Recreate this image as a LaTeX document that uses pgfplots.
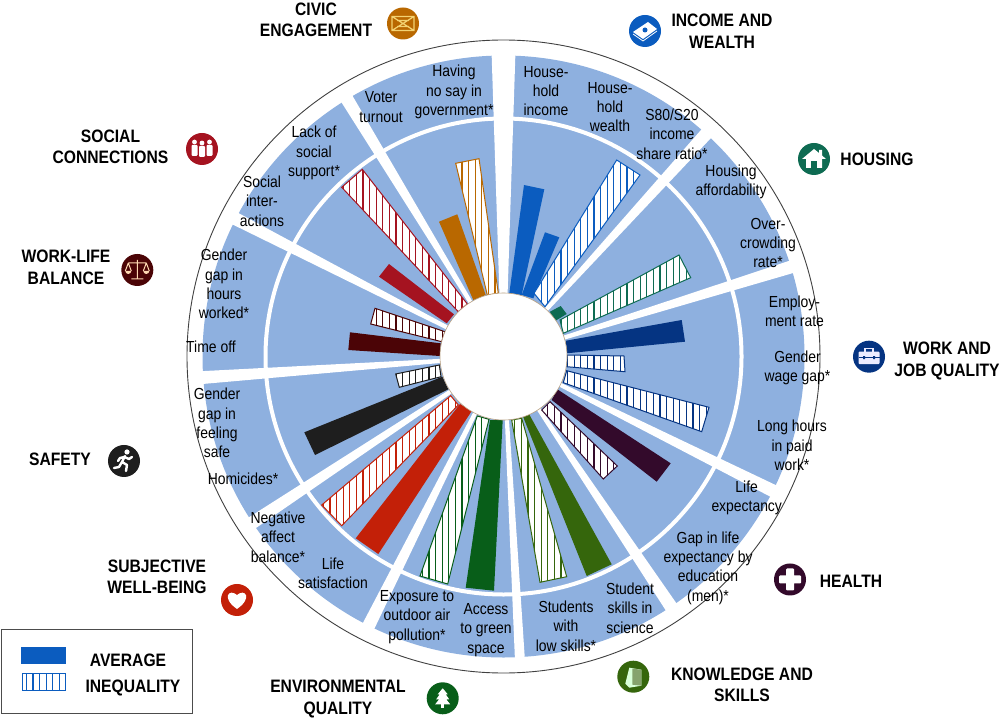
\documentclass[border=0pt]{standalone}
\usepackage{fontspec}
\setmainfont[FakeStretch=0.87]{Liberation Sans}
\usepackage{pgfplots}
\pgfplotsset{compat=1.18}
\usetikzlibrary{patterns.meta}

\definecolor{disc}{HTML}{8EB0DF}
\definecolor{cIncome}{HTML}{0B5CBF}
\definecolor{cHousing}{HTML}{0E6B52}
\definecolor{cWork}{HTML}{053482}
\definecolor{cHealth}{HTML}{330A2B}
\definecolor{cKnow}{HTML}{35660C}
\definecolor{cEnv}{HTML}{085E19}
\definecolor{cSubj}{HTML}{C32008}
\definecolor{cSafety}{HTML}{1E1E1E}
\definecolor{cLife}{HTML}{4B0406}
\definecolor{cSocial}{HTML}{A51320}
\definecolor{cCivic}{HTML}{B96800}

% bars, corners given in picture pixels
\newcommand{\solidbar}[2]{\addplot[fill=#1,draw=none] coordinates {#2} -- cycle;}
\newcommand{\hatchbar}[2]{%
  \addplot[fill=white,draw=none] coordinates {#2} -- cycle;
  \addplot[draw=#1,line width=1pt,pattern={Lines[angle=90,distance=6.6pt,line width=1.2pt]},pattern color=#1] coordinates {#2} -- cycle;}
% white gap between two dimensions
\newcommand{\gap}[3]{\fill[white,shift={(axis cs:503.5,356.5)},rotate=#1] (60pt,-#2pt) -- (306pt,-#3pt) -- (306pt,#3pt) -- (60pt,#2pt) -- cycle;}
\newcommand{\lab}[3]{\node[font=\fontsize{16}{19.3}\selectfont,align=center,inner sep=0pt] at (axis cs:#1,#2) {#3};}
\newcommand{\head}[3]{\node[font=\fontsize{18}{21.5}\selectfont\bfseries,align=center,inner sep=0pt] at (axis cs:#1,#2) {#3};}
\newcommand{\icon}[4]{\begin{scope}[shift={(#1pt,719pt-#2pt)}]\fill[#3] (0,0) circle (16pt);#4\end{scope}}

\begin{document}
\begin{tikzpicture}[x=1pt,y=1pt]
\path[use as bounding box] (0,0) rectangle (1000,719);
\begin{axis}[scale only axis,width=1000pt,height=719pt,xmin=0,xmax=1000,ymin=0,ymax=719,y dir=reverse,hide axis,clip=false]
\fill[disc] (axis cs:503.5,356.5) circle[radius=301pt];
\gap{90}{4}{12}
\gap{47.7}{2}{6.5}
\gap{17.3}{2}{6.5}
\gap{-26.5}{2}{6.5}
\gap{-56.2}{2}{6.5}
\gap{-86.9}{2}{5}
\gap{-116.6}{2}{6.5}
\gap{213.5}{2}{6.5}
\gap{184}{2}{6.5}
\gap{152.8}{2}{6.5}
\gap{121.3}{2}{6.5}
\draw[white,line width=4pt] (axis cs:503.5,356.5) circle[radius=238pt];
\draw[black!75,line width=0.9pt] (axis cs:503.5,356.5) circle[radius=316.5pt];

% income and wealth
\solidbar{cIncome}{(524,185)(544.3,189.3)(521.7,295)(509.3,293.3)}
\solidbar{cIncome}{(545,232.3)(559.3,237.3)(533.3,298.3)(521.7,295)}
\hatchbar{cIncome}{(616.7,160)(640,175)(545,306.7)(534,293.3)}
% housing
\solidbar{cHousing}{(560.7,306)(566.7,314)(554,321.7)(550,311.7)}
\hatchbar{cHousing}{(679,255)(690.7,277.7)(563.3,333.3)(560,320)}
% work and job quality
\solidbar{cWork}{(681.7,320)(685,341.7)(566.7,353.3)(566,340.7)}
\hatchbar{cWork}{(624,356)(625,371.7)(566.7,366.7)(567.3,355)}
\hatchbar{cWork}{(709,407.3)(701.7,431.7)(563.3,382.7)(566.7,370.7)}
% health
\solidbar{cHealth}{(670.7,463.3)(656.7,481.7)(551.7,400)(557.3,389.3)}
\hatchbar{cHealth}{(617.3,466)(603.3,479)(541.7,410)(550,401.7)}
% knowledge and skills
\solidbar{cKnow}{(611.7,564.3)(586.7,576)(523.3,417.3)(528.3,412.7)}
\hatchbar{cKnow}{(566.7,576.7)(540,582.3)(511.7,420)(521.7,418.3)}
% environmental quality
\solidbar{cEnv}{(494,590.7)(465.7,587.7)(490,420)(502.7,420)}
\hatchbar{cEnv}{(447.7,584)(420,576)(477.3,416)(489,419.3)}
% subjective well-being
\solidbar{cSubj}{(378.3,554)(355.7,538.3)(460,404)(471.7,411)}
\hatchbar{cSubj}{(341.7,525.7)(321.7,505)(450.7,395.7)(458.3,405)}
% safety
\solidbar{cSafety}{(315,455)(304.3,432.3)(442.3,376.7)(448.3,389.3)}
\hatchbar{cSafety}{(399.3,387.3)(395.7,374)(439.3,365)(441,376.7)}
% work-life balance
\solidbar{cLife}{(348.3,350)(350,332.3)(440.7,343.3)(440,356)}
\hatchbar{cLife}{(370.7,324)(375,308.3)(445,331.7)(441.7,341.7)}
% social connections
\solidbar{cSocial}{(379,276.7)(389,264)(454,314.3)(446.7,323.3)}
\hatchbar{cSocial}{(341.7,187.3)(362.3,169.3)(467.3,304)(458.3,311.7)}
% civic engagement
\solidbar{cCivic}{(439,221.7)(457.3,214.3)(485.7,295)(473.3,300)}
\hatchbar{cCivic}{(455.7,163.3)(479,158.7)(498.3,293.3)(487.3,295)}

\filldraw[fill=white,draw=cCivic!60!black!50,line width=0.6pt] (axis cs:503.5,356.5) circle[radius=63.5pt];

\lab{454}{92}{Having\\no say in\\government*}
\lab{381}{107}{Voter\\turnout}
\lab{546}{91}{House-\\hold\\income}
\lab{610}{107}{House-\\hold\\wealth}
\lab{672}{134}{S80/S20\\income\\share ratio*}
\lab{731}{182}{Housing\\affordability}
\lab{768}{243}{Over-\\crowding\\rate*}
\lab{794.5}{311}{Employ-\\ment rate}
\lab{797.5}{368}{Gender\\wage gap*}
\lab{792}{445.5}{Long hours\\in paid\\work*}
\lab{746.7}{498}{Life\\expectancy}
\lab{708}{568}{Gap in life\\expectancy by\\education\\(men)*}
\lab{630}{608}{Student\\skills in\\science}
\lab{566}{626}{Students\\with\\low skills*}
\lab{486}{630}{Access\\to green\\space}
\lab{417}{617}{Exposure to\\outdoor air\\pollution*}
\lab{333}{573}{Life\\satisfaction}
\lab{278}{537}{Negative\\affect\\balance*}
\lab{243}{479}{Homicides*}
\lab{217}{423}{Gender\\gap in\\feeling\\safe}
\lab{211}{347}{Time off}
\lab{224}{284}{Gender\\gap in\\hours\\worked*}
\lab{262}{201}{Social\\inter-\\actions}
\lab{314}{153}{Lack of\\social\\support*}

\head{316}{20}{CIVIC\\ENGAGEMENT}
\head{722}{31}{INCOME AND\\WEALTH}
\head{877}{159}{HOUSING}
\head{947}{361}{WORK AND\\JOB QUALITY}
\head{851}{581}{HEALTH}
\head{742}{685}{KNOWLEDGE AND\\SKILLS}
\head{338}{699}{ENVIRONMENTAL\\QUALITY}
\head{157}{577}{SUBJECTIVE\\WELL-BEING}
\head{60}{459}{SAFETY}
\head{66}{267.5}{WORK-LIFE\\BALANCE}
\head{110.5}{147}{SOCIAL\\CONNECTIONS}

% legend
\addplot[fill=white,draw=black!70,line width=1pt] coordinates {(1,629)(192,629)(192,713)(1,713)} -- cycle;
\solidbar{cIncome}{(21,647)(66,647)(66,664)(21,664)}
\hatchbar{cIncome}{(22,673.5)(65.5,673.5)(65.5,690.5)(22,690.5)}
\head{128}{660}{AVERAGE}
\head{133}{688}{INEQUALITY}
\end{axis}

\icon{403}{23.5}{cCivic}{\draw[draw={rgb,255:red,243;green,210;blue,114},line width=1.2pt] (-11,-7) rectangle (11,7) (-11,7) -- (11,-7) (-11,-7) -- (11,7) (-6,-3) -- (6,-3) (-6,3) -- (6,3);}
\icon{645}{31}{cIncome}{\fill[white] (-12,-1) -- (3,9) -- (12,2) -- (-2,-8) -- cycle;\fill[cIncome] (0,1) circle (2.5);\draw[white,line width=0.8pt] (-12,-3) -- (-2,-10) -- (12,0);}
\icon{814}{159}{cHousing}{\fill[white] (-12,0) -- (0,10) -- (5,6) -- (5,9) -- (8,9) -- (8,3.5) -- (12,0) -- (8,0) -- (8,-9) -- (-8,-9) -- (-8,0) -- cycle;\fill[cHousing] (-3,-9) rectangle (3,-2);}
\icon{869}{356.7}{cWork}{\fill[blue!8!white,rounded corners=1pt] (-10.5,-7.5) rectangle (10.5,5);\draw[blue!8!white,line width=1.2pt] (-4,5) -- (-4,8) -- (4,8) -- (4,5);\draw[cWork,line width=1pt] (-10.5,-1) -- (10.5,-1);\fill[cWork] (-6,-2.5) rectangle (-4,0.5) (4,-2.5) rectangle (6,0.5);}
\icon{790}{579.5}{cHealth}{\fill[white,rounded corners=1pt] (-4,-11) rectangle (4,11) (-11,-4) rectangle (11,4);}
\icon{633.3}{676.7}{cKnow}{\fill[green!15!white] (-8,-7) -- (-4,9) -- (8,7) -- (8,-9) -- (-4,-11) -- cycle;\fill[cKnow!60!white] (-1,-8) -- (8,-9) -- (8,7) -- (-1,8) -- cycle;}
\icon{442.7}{698.3}{cEnv}{\fill[white] (0,10) -- (5,4) -- (3,4) -- (6.5,-1) -- (3.5,-1) -- (7.5,-6) -- (-7.5,-6) -- (-3.5,-1) -- (-6.5,-1) -- (-3,4) -- (-5,4) -- cycle;\fill[white] (-1.5,-6) rectangle (1.5,-10);}
\icon{237}{600}{cSubj}{\fill[white] (0,-9) .. controls (-16,2) and (-8,12) .. (0,5) .. controls (8,12) and (16,2) .. (0,-9) -- cycle;}
\icon{124}{461}{cSafety}{\fill[white] (3,9) circle (2.6);\draw[white,line width=2.4pt,line cap=round,line join=round] (1,5) -- (-2,-1) (-2,-1) -- (3,-4) -- (2,-10) (-2,-1) -- (-5,-6) -- (-10,-7) (0.5,4) -- (5,2) -- (8,4) (0.5,4) -- (-4,3) -- (-6,0);}
\icon{137.3}{270}{cLife}{\draw[orange!30!white,line width=1pt] (0,10) -- (0,-9) (-6,-9) -- (6,-9) (-9,7) -- (9,7) (-9,7) -- (-12,-1) (-9,7) -- (-6,-1) (9,7) -- (12,-1) (9,7) -- (6,-1);\fill[orange!30!white] (-12,-1) arc (180:360:3) -- cycle (6,-1) arc (180:360:3) -- cycle;}
\icon{202}{149}{cSocial}{\foreach \x/\y in {-7.5/1,7.5/1,0/0}{\fill[white] (\x,\y+6) circle (2.4);\fill[white,rounded corners=1pt] (\x-3,\y+3) rectangle (\x+3,\y-8);}}
\end{tikzpicture}
\end{document}
